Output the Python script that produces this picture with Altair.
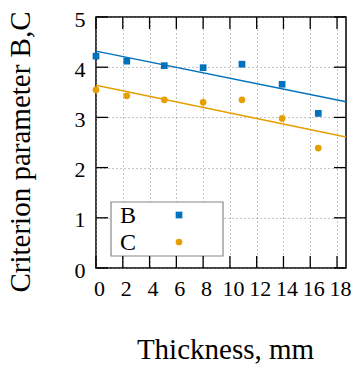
import altair as alt
import pandas as pd

# ---- data ----
thickness = [0, 2.3, 5.1, 8.0, 10.9, 13.9, 16.6]
B_vals = [4.22, 4.12, 4.03, 3.99, 4.06, 3.66, 3.08]
C_vals = [3.55, 3.43, 3.35, 3.30, 3.35, 2.98, 2.39]
fit_x = [0, 18.67]
B_fit = [4.32, 3.31]
C_fit = [3.64, 2.61]
series = ["B", "C"]
colors = ["#0072bd", "#e69f00"]
x_ticks = [0, 2, 4, 6, 8, 10, 12, 14, 16, 18]
y_ticks = [0, 1, 2, 3, 4, 5]

W, H = 250, 251
FONT = "Liberation Serif"

pts = pd.DataFrame({
    "x": thickness * 2,
    "y": B_vals + C_vals,
    "s": ["B"] * len(B_vals) + ["C"] * len(C_vals),
})
fits = pd.DataFrame({
    "x": fit_x * 2,
    "y": B_fit + C_fit,
    "s": ["B"] * 2 + ["C"] * 2,
})
xt = pd.DataFrame({"t": x_ticks})
yt = pd.DataFrame({"t": y_ticks})

xscale = alt.Scale(domain=[0, 18.67], nice=False, zero=False)
yscale = alt.Scale(domain=[0, 5], nice=False)
cscale = alt.Scale(domain=series, range=colors)
shscale = alt.Scale(domain=series, range=["square", "circle"])

xaxis = alt.Axis(values=x_ticks, grid=True, gridDash=[1, 3], gridColor="#888",
                 tickSize=0, domain=False, labelFont=FONT, labelFontSize=22,
                 labelColor="black", labelPadding=10, labelOffset=3, labelFlush=False,
                 labelOverlap=False, title="Thickness, mm", titleFont=FONT,
                 titleFontSize=29, titleFontWeight="normal", titleColor="black",
                 titleBaseline="alphabetic", titleX=129, titleY=90, titleAlign="center")
yaxis = alt.Axis(values=y_ticks, grid=True, gridDash=[1, 3], gridColor="#888",
                 tickSize=0, domain=False, labelFont=FONT, labelFontSize=22,
                 labelColor="black", labelPadding=11, labelOffset=2, labelFlush=False,
                 labelOverlap=False, title="Criterion parameter B,C", titleFont=FONT,
                 titleFontSize=29, titleFontWeight="normal", titleColor="black",
                 titleAngle=270, titleBaseline="alphabetic", titleX=-67, titleY=134.5,
                 titleAlign="center")

def X(f):
    return alt.X(f, scale=xscale, axis=xaxis)

def Y(f):
    return alt.Y(f, scale=yscale, axis=yaxis)

lines = alt.Chart(fits).mark_line(strokeWidth=1.5).encode(
    x=X("x:Q"), y=Y("y:Q"), detail="s:N",
    color=alt.Color("s:N", scale=cscale, legend=None))

points = alt.Chart(pts).mark_point(filled=True, size=45, opacity=1).encode(
    x=X("x:Q"), y=Y("y:Q"),
    color=alt.Color("s:N", scale=cscale, legend=None),
    shape=alt.Shape("s:N", scale=shscale, legend=None))

# legend box inside plot
leg_box = alt.Chart(pd.DataFrame({"a": [0]})).mark_rect(
    fill="white", stroke="#888", strokeWidth=1.2).encode(
    x=alt.value(15), x2=alt.value(127), y=alt.value(185), y2=alt.value(239))
leg_items = []
for name, col, shp, ty, sy in [("B", colors[0], "square", 206, 198),
                               ("C", colors[1], "circle", 233, 225)]:
    leg_items.append(alt.Chart(pd.DataFrame({"s": [name]})).mark_text(
        font=FONT, fontSize=24, align="left", baseline="alphabetic", color="black").encode(
        x=alt.value(24), y=alt.value(ty), text="s:N"))
    leg_items.append(alt.Chart(pd.DataFrame({"s": [name]})).mark_point(
        filled=True, size=45, opacity=1, shape=shp, color=col).encode(
        x=alt.value(83), y=alt.value(sy)))

TL = 12
tick_style = dict(color="black", strokeWidth=1.3)
bt = alt.Chart(xt).mark_rule(**tick_style).encode(x=X("t:Q"), y=alt.value(H), y2=alt.value(H - TL))
tt = alt.Chart(xt).mark_rule(**tick_style).encode(x=X("t:Q"), y=alt.value(0), y2=alt.value(TL))
lt = alt.Chart(yt).mark_rule(**tick_style).encode(y=Y("t:Q"), x=alt.value(0), x2=alt.value(TL))
rt = alt.Chart(yt).mark_rule(**tick_style).encode(y=Y("t:Q"), x=alt.value(W), x2=alt.value(W - TL))

chart = alt.layer(lines, points, leg_box, *leg_items, bt, tt, lt, rt).properties(
    width=W, height=H,
    autosize=alt.AutoSizeParams(type="none"),
    padding={"left": 96, "top": 17, "right": 7, "bottom": 99},
    background="white",
).configure_view(stroke="black", strokeWidth=1.5)

chart.save("out.html", embed_options={"renderer": "svg", "actions": False})
